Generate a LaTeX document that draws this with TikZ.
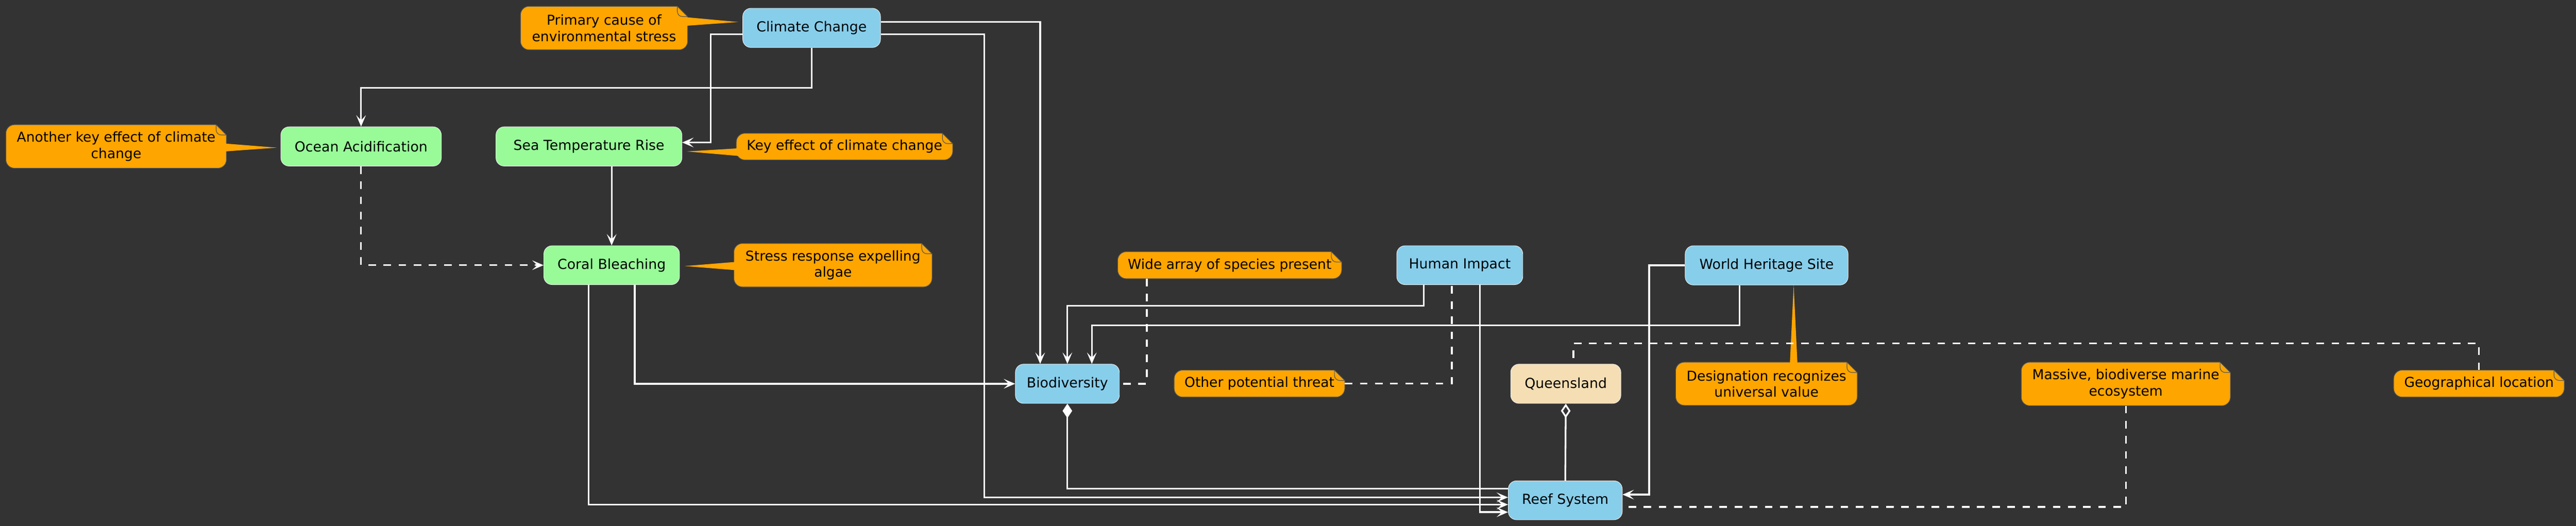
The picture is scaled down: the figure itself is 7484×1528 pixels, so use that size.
\documentclass[tikz,border=0pt]{standalone}
\usepackage{fontspec}
\setmainfont{DejaVu Sans}
\usetikzlibrary{arrows.meta,backgrounds}

\definecolor{bgdark}{HTML}{333333}
\definecolor{skyblue}{HTML}{87CEEB}
\definecolor{palegreen}{HTML}{98FB98}
\definecolor{wheat}{HTML}{F5DEB3}
\definecolor{noteorange}{HTML}{FFA500}
\definecolor{noteline}{HTML}{555555}

% note body with folded corner, drawn round an existing node
\newcommand{\notebody}[1]{%
  \filldraw[notepaint] ([xshift=0.25cm]#1.north west) -- ([xshift=-0.3cm]#1.north east)
    -- ([yshift=-0.3cm]#1.north east) -- ([yshift=0.25cm]#1.south east)
    arc[start angle=0, end angle=-90, radius=0.25cm] -- ([xshift=0.25cm]#1.south west)
    arc[start angle=270, end angle=180, radius=0.25cm] -- ([yshift=-0.25cm]#1.north west)
    arc[start angle=180, end angle=90, radius=0.25cm] -- cycle;
  \draw[notepaint, fill=none] ([xshift=-0.3cm]#1.north east) -- ++(0,-0.15cm)
    arc[start angle=180, end angle=270, radius=0.15cm] -- ([yshift=-0.3cm]#1.north east);
}

\begin{document}
\begin{tikzpicture}[x=0.01cm, y=0.01cm]
\tikzset{
    block/.style={rectangle, rounded corners=0.24cm, draw=white!92!black, line width=0.4pt,
      inner sep=0pt, minimum height=1.14cm, font=\fontsize{11.4}{13.4}\selectfont},
    note/.style={inner sep=0pt, align=center, minimum height=0.77cm, font=\fontsize{11.3}{13.4}\selectfont},
    notepaint/.style={fill=noteorange, draw=noteline, line width=0.5pt},
    flow/.style={draw=white, line width=1.4pt, -{Stealth[length=0.33cm, width=0.28cm, inset=0.15cm]}},
    link/.style={draw=white, line width=1.4pt, dash pattern=on 0.22cm off 0.22cm},
    wire/.style={draw=white, line width=1.4pt}
}
  \useasboundingbox (0,0) rectangle (7484,-1528);

  \node[block, fill=skyblue, minimum width=4cm] (climate) at (2358,-81) {Climate Change};
  \node[block, fill=palegreen, minimum width=4.66cm] (acid) at (1049,-425.5) {Ocean Acidification};
  \node[block, fill=palegreen, minimum width=5.4cm] (temp) at (1711,-425.5) {Sea Temperature Rise};
  \node[block, fill=palegreen, minimum width=3.94cm, minimum height=1.13cm] (bleach) at (1777,-770.5) {Coral Bleaching};
  \node[block, fill=skyblue, minimum width=3.02cm] (biodiv) at (3101,-1115) {Biodiversity};
  \node[block, fill=skyblue, minimum width=3.66cm, minimum height=1.13cm] (human) at (4241,-770.5) {Human Impact};
  \node[block, fill=skyblue, minimum width=4.73cm] (heritage) at (5132.5,-771) {World Heritage Site};
  \node[block, fill=wheat, minimum width=3.2cm] (qld) at (4549,-1115) {Queensland};
  \node[block, fill=skyblue, minimum width=3.31cm, minimum height=1.13cm] (reef) at (4547.5,-1453.5) {Reef System};

  \node[note, minimum width=4.84cm, minimum height=1.25cm] (ncause) at (1755,-81.5) {Primary cause of\\environmental stress};
  \node[note, minimum width=6.39cm, minimum height=1.25cm] (nacid) at (337.5,-425.5) {Another key effect of climate\\change};
  \node[note, minimum width=6.27cm, minimum height=0.76cm] (ntemp) at (2453.5,-426) {Key effect of climate change};
  \node[note, minimum width=5.74cm, minimum height=1.25cm] (nbleach) at (2420,-770.5) {Stress response expelling\\algae};
  \node[note, minimum width=6.49cm] (nspecies) at (3572.5,-770.5) {Wide array of species present};
  \node[note, minimum width=4.94cm] (nthreat) at (3659,-1114.5) {Other potential threat};
  \node[note, minimum width=5.26cm, minimum height=1.24cm] (nvalue) at (5132,-1115) {Designation recognizes\\universal value};
  \node[note, minimum width=6.06cm, minimum height=1.25cm] (nmarine) at (6176,-1115.5) {Massive, biodiverse marine\\ecosystem};
  \node[note, minimum width=4.94cm] (nplace) at (7202,-1114.5) {Geographical location};

  \draw[flow] (climate.south) -- ++(0,-116) -| (acid.north);
  \draw[flow] ([yshift=-0.19cm]climate.west) -- ++(-92,0) |- ([yshift=0.115cm]temp.east);
  \draw[flow] ([yshift=0.17cm]climate.east) -| ([xshift=-0.79cm]biodiv.north);
  \draw[flow] ([yshift=-0.19cm]climate.east) -- ++(301,0) |- ([yshift=0.085cm]reef.west);
  \draw[flow] (bleach.north |- temp.south) -- (bleach.north);
  \draw[flow, link] (acid.south) |- (bleach.west);
  \draw[flow] ([xshift=0.67cm]bleach.south) |- (biodiv.west);
  \draw[flow] ([xshift=-0.67cm]bleach.south) |- ([yshift=-0.125cm]reef.west);
  \draw[flow] ([xshift=-1.05cm]human.south) -- ++(0,-61) -| (biodiv.north);
  \draw[flow] ([xshift=0.59cm]human.south) |- ([yshift=-0.345cm]reef.west);
  \draw[flow] ([xshift=-0.785cm]heritage.south) -- ++(0,-117) -| ([xshift=0.71cm]biodiv.north);
  \draw[flow] (heritage.west) -- ++(-104,0) |- ([yshift=0.165cm]reef.east);
  \draw[wire, {Diamond[length=0.42cm, width=0.28cm]}-] (biodiv.south) |- ([yshift=0.335cm]reef.west);
  \draw[wire, {Diamond[open, length=0.42cm, width=0.28cm]}-] (qld.south) -- (reef.north);

  %\draw[link] (nspecies) -- (biodiv);
  \draw[link] ([xshift=-2.405cm]nspecies.south) |- (biodiv.east);
  \draw[link] (nthreat.east) -| ([xshift=-0.23cm]human.south);
  \draw[link] (nmarine.south) |- ([yshift=-0.195cm]reef.east);
  \draw[link] (nplace.north) -- ++(0,78) -| ([xshift=0.22cm]qld.north);

  \begin{scope}[on background layer]
    \fill[bgdark] (0,0) rectangle (7484,-1528);
    \notebody{ncause}
    \notebody{nacid}
    \notebody{ntemp}
    \notebody{nbleach}
    \notebody{nspecies}
    \notebody{nthreat}
    \notebody{nvalue}
    \notebody{nmarine}
    \notebody{nplace}
    \fill[noteorange] ([xshift=-0.05cm, yshift=0.315cm]ncause.east) -- ([xshift=-0.13cm, yshift=0.17cm]climate.west)
      -- ([xshift=-0.05cm, yshift=0.065cm]ncause.east) -- cycle;
    \fill[noteorange] ([xshift=-0.05cm, yshift=0.085cm]nacid.east) -- ([xshift=-0.11cm, yshift=-0.035cm]acid.west)
      -- ([xshift=-0.05cm, yshift=-0.145cm]nacid.east) -- cycle;
    \fill[noteorange] ([xshift=0.05cm, yshift=-0.05cm]ntemp.west) -- ([xshift=0.13cm, yshift=-0.145cm]temp.east)
      -- ([xshift=0.06cm, yshift=-0.27cm]ntemp.west) -- cycle;
    \fill[noteorange] ([xshift=0.05cm, yshift=0.095cm]nbleach.west) -- ([xshift=0.15cm, yshift=-0.025cm]bleach.east)
      -- ([xshift=0.05cm, yshift=-0.145cm]nbleach.west) -- cycle;
    \fill[noteorange] ([xshift=0.68cm, yshift=-0.05cm]nvalue.north) -- ([xshift=0.785cm]heritage.south)
      -- ([xshift=0.9cm, yshift=-0.05cm]nvalue.north) -- cycle;
  \end{scope}
\end{tikzpicture}
\end{document}
